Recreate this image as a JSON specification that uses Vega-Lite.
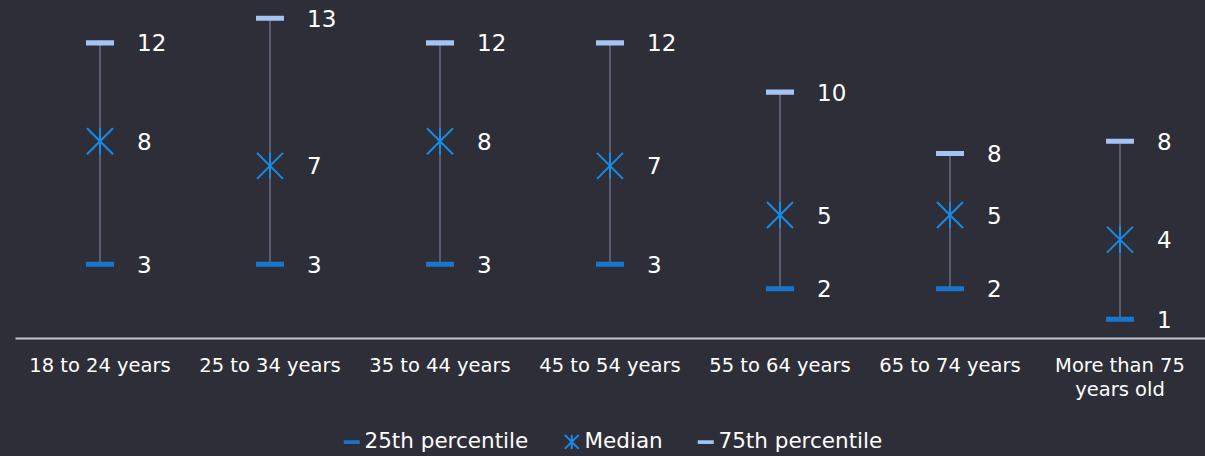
{
  "$schema": "https://vega.github.io/schema/vega-lite/v6.json",
  "autosize": {"type": "none"},
  "width": 1190,
  "height": 332,
  "padding": {"left": 15, "top": 6, "right": 0, "bottom": 118},
  "background": "#2e2e38",
  "config": {
    "view": {"stroke": null},
    "font": "DejaVu Sans"
  },
  "data": {
    "values": [
      {"age": "18 to 24 years", "25th percentile": 3, "Median": 8, "75th percentile": 12},
      {"age": "25 to 34 years", "25th percentile": 3, "Median": 7, "75th percentile": 13},
      {"age": "35 to 44 years", "25th percentile": 3, "Median": 8, "75th percentile": 12},
      {"age": "45 to 54 years", "25th percentile": 3, "Median": 7, "75th percentile": 12},
      {"age": "55 to 64 years", "25th percentile": 2, "Median": 5, "75th percentile": 10},
      {"age": "65 to 74 years", "25th percentile": 2, "Median": 5, "75th percentile": 7.5},
      {"age": "More than 75 years old", "25th percentile": 0.76, "Median": 4, "75th percentile": 8}
    ]
  },
  "encoding": {
    "x": {
      "field": "age",
      "type": "nominal",
      "sort": null,
      "scale": {"paddingInner": 0, "paddingOuter": 0},
      "axis": {
        "title": null,
        "labelAngle": 0,
        "ticks": false,
        "domainColor": "#c4c4cd",
        "domainWidth": 2,
        "labelColor": "#ffffff",
        "labelFont": "DejaVu Sans",
        "labelFontSize": 19.5,
        "labelPadding": 18,
        "labelLineHeight": 24,
        "labelBaseline": "top",
        "labelExpr": "datum.label == 'More than 75 years old' ? ['More than 75', 'years old'] : datum.label"
      }
    }
  },
  "layer": [
    {
      "mark": {"type": "rule", "color": "#5c5c70", "strokeWidth": 2},
      "encoding": {
        "y": {"field": "25th percentile", "type": "quantitative", "scale": {"domain": [0, 13.5], "nice": false, "zero": true}, "axis": null},
        "y2": {"field": "75th percentile"}
      }
    },
    {
      "transform": [
        {"fold": ["25th percentile", "Median", "75th percentile"], "as": ["stat", "value"]}
      ],
      "mark": {"type": "point", "filled": true, "opacity": 1, "strokeWidth": 2, "size": 676},
      "encoding": {
        "y": {"field": "value", "type": "quantitative"},
        "fill": {
          "field": "stat",
          "type": "nominal",
          "scale": {"domain": ["25th percentile", "Median", "75th percentile"], "range": ["#1777cf", "#188ce5", "#a4c4f4"]},
          "legend": {
            "title": null,
            "orient": "none",
            "direction": "horizontal",
            "legendX": 326,
            "legendY": 425,
            "labelColor": "#ffffff",
            "labelFont": "DejaVu Sans",
            "labelFontSize": 21.5,
            "labelLimit": 400,
            "labelOffset": 2,
            "columnPadding": 31,
            "symbolSize": 196,
            "symbolStrokeWidth": 2
          }
        },
        "stroke": {
          "field": "stat",
          "type": "nominal",
          "scale": {"domain": ["25th percentile", "Median", "75th percentile"], "range": ["#1777cf", "#188ce5", "#a4c4f4"]}
        },
        "shape": {
          "field": "stat",
          "type": "nominal",
          "scale": {
            "domain": ["25th percentile", "Median", "75th percentile"],
            "range": [
              "M-1,-0.12L1,-0.12L1,0.12L-1,0.12Z",
              "M-1,-1L1,1M-1,1L1,-1M0,-1L0,1",
              "M-1,-0.12L1,-0.12L1,0.12L-1,0.12Z"
            ]
          }
        }
      }
    },
    {
      "transform": [
        {"fold": ["25th percentile", "Median", "75th percentile"], "as": ["stat", "value"]}
      ],
      "mark": {"type": "text", "align": "left", "baseline": "middle", "dx": 37, "dy": 1.5, "fontSize": 23, "font": "DejaVu Sans", "color": "#ffffff"},
      "encoding": {
        "y": {"field": "value", "type": "quantitative"},
        "text": {"field": "value", "type": "quantitative", "format": ".0f"}
      }
    }
  ]
}
